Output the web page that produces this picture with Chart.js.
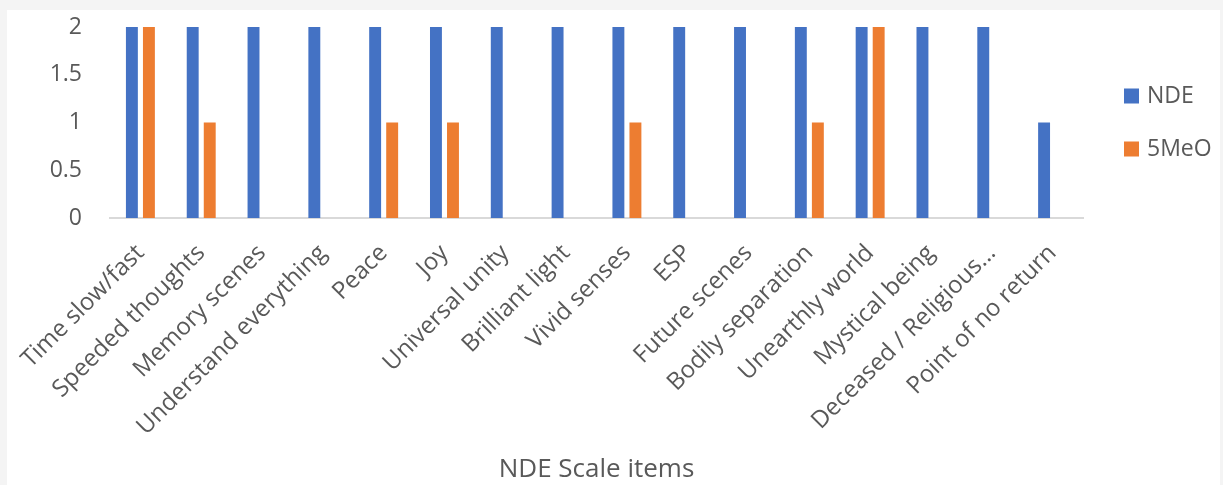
<!DOCTYPE html>
<html>
<head>
<meta charset="utf-8">
<script src="https://cdn.jsdelivr.net/npm/chart.js@4.4.1/dist/chart.umd.min.js"></script>
<style>
  html, body { margin: 0; padding: 0; background: #f4f4f4; width: 1223px; height: 485px; overflow: hidden; }
  #wrap { position: absolute; left: 7px; top: 10px; width: 1213px; height: 475px; background: #ffffff; }
</style>
</head>
<body>
<div id="wrap"><canvas id="c"></canvas></div>
<script>
const categories = [
  "Time slow/fast", "Speeded thoughts", "Memory scenes", "Understand everything",
  "Peace", "Joy", "Universal unity", "Brilliant light", "Vivid senses", "ESP",
  "Future scenes", "Bodily separation", "Unearthly world", "Mystical being",
  "Deceased / Religious…", "Point of no return"
];
const ndeValues   = [2, 2, 2, 2, 2, 2, 2, 2, 2, 2, 2, 2, 2, 2, 2, 1];
const meoValues   = [2, 1, 0, 0, 1, 1, 0, 0, 1, 0, 0, 1, 2, 0, 0, 0];
const yTicks      = [0, 0.5, 1, 1.5, 2];
const seriesNames = ["NDE", "5MeO"];
const xAxisTitle  = "NDE Scale items";

const FONT = "'Open Sans', 'Noto Sans', sans-serif";
const TEXT = "#595959";

// Legend drawn to the right of the plot, items
const sideLegend = {
  id: 'sideLegend',
  afterDraw(chart) {
    const ctx = chart.ctx;
    const area = chart.chartArea;
    const x0 = area.right + 41;
    const spacing = 53;
    const n = chart.data.datasets.length;
    const cy = (area.top + area.bottom) / 2 - (n - 1) * spacing / 2;
    ctx.save();
    ctx.font = "23px " + FONT;
    ctx.textBaseline = 'middle';
    ctx.textAlign = 'left';
    chart.data.datasets.forEach((ds, i) => {
      const y = cy + i * spacing;
      ctx.fillStyle = ds.backgroundColor;
      ctx.fillRect(x0, y - 7.5, 15, 15);
      ctx.fillStyle = TEXT;
      ctx.fillText(ds.label, x0 + 23, y);
    });
    ctx.restore();
  }
};

new Chart(document.getElementById('c'), {
  type: 'bar',
  data: {
    labels: categories,
    datasets: [
      { label: seriesNames[0], data: ndeValues, backgroundColor: '#4472C4', categoryPercentage: 0.56, barPercentage: 0.7 },
      { label: seriesNames[1], data: meoValues, backgroundColor: '#ED7D31', categoryPercentage: 0.56, barPercentage: 0.7 }
    ]
  },
  plugins: [sideLegend],
  options: {
    responsive: true,
    maintainAspectRatio: false,
    animation: false,
    layout: { padding: { left: 43, right: 137, top: 17, bottom: 0 } },
    plugins: {
      tooltip: { enabled: false },
      legend: { display: false }
    },
    scales: {
      x: {
        grid: { display: false, drawTicks: false },
        border: { display: true, color: '#d9d9d9', width: 2 },
        ticks: {
          color: TEXT, font: { family: FONT, size: 24 },
          maxRotation: 45, minRotation: 45, autoSkip: false, padding: 21
        },
        title: {
          display: true, text: xAxisTitle, color: TEXT,
          font: { family: FONT, size: 26 }, padding: { top: 0, bottom: 0 }
        },
        afterFit: (axis) => { axis.height = 267; axis.paddingLeft = 0; axis.paddingRight = 0; }
      },
      y: {
        min: 0, max: 2,
        afterBuildTicks: (axis) => { axis.ticks = yTicks.map(v => ({ value: v })); },
        grid: { display: false, drawTicks: false },
        border: { display: false },
        ticks: {
          color: TEXT, font: { family: FONT, size: 23 }, padding: 28,
          callback: (v) => String(v)
        },
        afterFit: (axis) => { axis.width = 60; axis.paddingTop = 0; axis.paddingBottom = 0; }
      }
    }
  }
});
</script>
</body>
</html>
